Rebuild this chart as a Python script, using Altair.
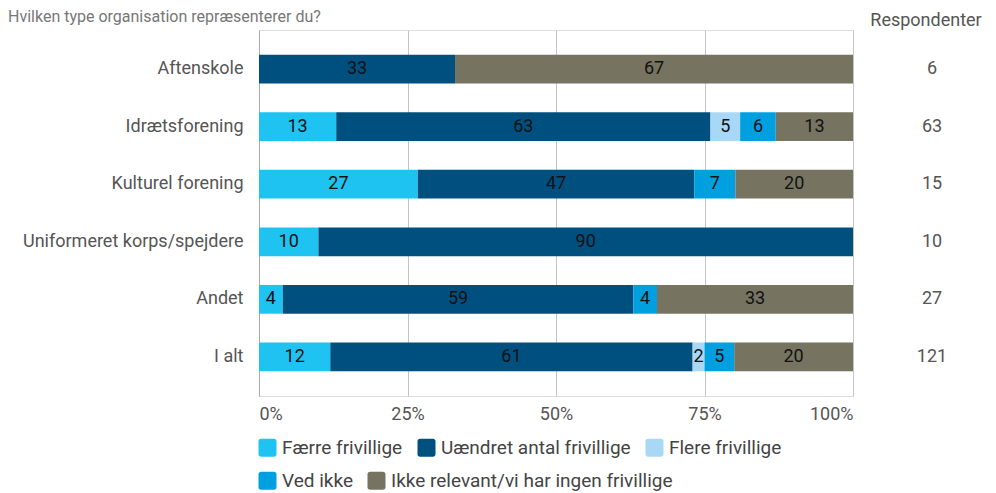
import altair as alt
import pandas as pd

organisations = ["Aftenskole", "Idrætsforening", "Kulturel forening",
                 "Uniformeret korps/spejdere", "Andet", "I alt"]
categories = ["Færre frivillige", "Uændret antal frivillige", "Flere frivillige",
              "Ved ikke", "Ikke relevant/vi har ingen frivillige"]
colors = ["#1ec3f2", "#00507f", "#a8d8f5", "#009fe0", "#767461"]

faerre = [0, 13, 27, 10, 4, 12]
uaendret = [33, 63, 47, 90, 59, 61]
flere = [0, 5, 0, 0, 0, 2]
ved_ikke = [0, 6, 7, 0, 4, 5]
ikke_relevant = [67, 13, 20, 0, 33, 20]
respondenter = [6, 63, 15, 10, 27, 121]

series = [faerre, uaendret, flere, ved_ikke, ikke_relevant]
rows = []
for ci, (cat, vals) in enumerate(zip(categories, series)):
    for org, v in zip(organisations, vals):
        rows.append({"org": org, "cat": cat, "idx": ci, "value": v})
df = pd.DataFrame(rows)
resp_df = pd.DataFrame({"org": organisations, "n": respondenter})

FONT = "Roboto"
ROUNDED = ("M-0.7,-1L0.7,-1Q1,-1,1,-0.7L1,0.7Q1,1,0.7,1L-0.7,1Q-1,1,-1,0.7"
           "L-1,-0.7Q-1,-1,-0.7,-1Z")

y_enc = alt.Y("org:N", sort=organisations,
              scale=alt.Scale(paddingInner=0.5, paddingOuter=0.43),
              axis=alt.Axis(title=None, ticks=False, labelPadding=16, labelFontSize=18,
                            labelColor="#555555", labelFont=FONT, labelLimit=320,
                            domain=True, domainColor="#aaaaaa", grid=False))

x_enc = alt.X("x0:Q", scale=alt.Scale(domain=[0, 1], nice=False),
              axis=alt.Axis(title=None, format="%", values=[0, 0.25, 0.5, 0.75, 1],
                            grid=True, gridColor="#c4c4c4", ticks=False, domain=False,
                            labelFlush=True, labelPadding=9, labelFontSize=18,
                            labelColor="#555555", labelFont=FONT))

base = alt.Chart(df).transform_stack(
    stack="value", groupby=["org"], as_=["x0", "x1"], offset="normalize",
    sort=[alt.SortField("idx", order="ascending")]
).transform_calculate(mid="(datum.x0 + datum.x1) / 2")


def legend(y):
    return alt.Legend(title=None, orient="none", legendX=-1, legendY=y,
                      direction="horizontal", symbolType=ROUNDED, symbolSize=324,
                      symbolStrokeWidth=0, symbolOpacity=1, labelFontSize=19,
                      labelColor="#444444", labelFont=FONT, labelOffset=5,
                      columnPadding=14, labelLimit=400)


bars1 = base.transform_filter("datum.idx < 3").mark_bar().encode(
    x=x_enc, x2="x1:Q", y=y_enc,
    color=alt.Color("cat:N", scale=alt.Scale(domain=categories[:3], range=colors[:3]),
                    legend=legend(408)),
)
bars2 = base.transform_filter("datum.idx >= 3").mark_bar().encode(
    x=x_enc, x2="x1:Q", y=y_enc,
    color=alt.Color("cat:N", scale=alt.Scale(domain=categories[3:], range=colors[3:]),
                    legend=legend(441)),
)

labels = base.transform_filter("datum.value > 0").mark_text(
    fontSize=18, font=FONT, color="#111111", baseline="middle", align="center"
).encode(
    x=alt.X("mid:Q"),
    y=alt.Y("org:N", sort=organisations),
    text=alt.Text("value:Q"),
)

resp = alt.Chart(resp_df).mark_text(
    fontSize=18, font=FONT, color="#555555", align="center", baseline="middle"
).encode(
    x=alt.value(673),
    y=alt.Y("org:N", sort=organisations),
    text="n:Q",
)

resp_header = alt.Chart(resp_df).transform_filter("datum.n == 6").mark_text(
    fontSize=18, font=FONT, color="#555555", align="center", baseline="middle"
).encode(x=alt.value(667), y=alt.value(-9), text=alt.value("Respondenter"))

title = alt.Chart(resp_df).transform_filter("datum.n == 6").mark_text(
    fontSize=16, font=FONT, color="#777777", align="left", baseline="alphabetic"
).encode(x=alt.value(-251), y=alt.value(-8),
         text=alt.value("Hvilken type organisation repræsenterer du?"))

chart = alt.layer(bars1, bars2, labels, resp, resp_header, title).resolve_scale(
    color="independent"
).properties(
    width=594, height=366,
    autosize=alt.AutoSizeParams(type="none"),
    padding={"left": 251, "top": 22, "right": 135, "bottom": 97},
).configure_view(stroke=None).configure(font=FONT)

chart.save("out.html", embed_options={"renderer": "svg", "actions": False})
